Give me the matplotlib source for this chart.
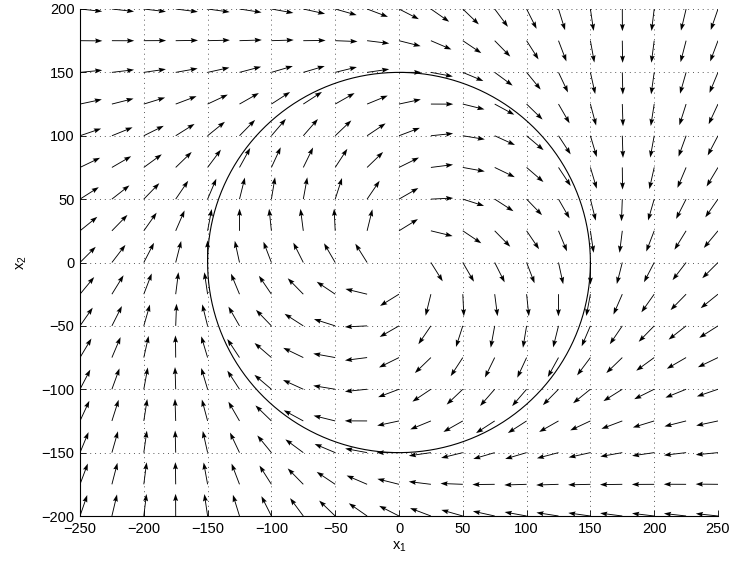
import numpy as np
import matplotlib
matplotlib.use("Agg")
import matplotlib.pyplot as plt

plt.rcParams['font.family'] = ['Liberation Sans', 'DejaVu Sans']
plt.rcParams['mathtext.default'] = 'regular'

# grid of sample points for the field
x_pts = np.arange(-250, 251, 25)
y_pts = np.arange(-200, 201, 25)

# limit cycle radius and convergence gain
R_CYCLE = 150.0
K_GAIN = 5e-5
ARROW_LEN = 17.5

x_ticks = [-250, -200, -150, -100, -50, 0, 50, 100, 150, 200, 250]
y_ticks = [-200, -150, -100, -50, 0, 50, 100, 150, 200]

X, Y = np.meshgrid(x_pts, y_pts)
r = np.hypot(X, Y)
with np.errstate(invalid='ignore', divide='ignore'):
    nx, ny = X / r, Y / r          # outward normal
    tx, ty = Y / r, -X / r         # clockwise tangent
G = (2 / np.pi) * np.arctan(K_GAIN * (r**2 - R_CYCLE**2))
H = np.sqrt(1 - G**2)
U = -G * nx + H * tx
V = -G * ny + H * ty
ok = r > 0

fig = plt.figure(figsize=(7.31, 5.62), dpi=100)
ax = fig.add_axes([80 / 731, 1 - 516 / 562, 638 / 731, 507 / 562])

ax.quiver(X[ok], Y[ok], U[ok], V[ok], angles='xy', scale_units='xy',
          scale=1 / ARROW_LEN, units='dots', width=0.9, headwidth=5.5,
          headlength=8, headaxislength=7, color='k', zorder=3)

th = np.linspace(0, 2 * np.pi, 500)
ax.plot(R_CYCLE * np.cos(th), R_CYCLE * np.sin(th), color='k', lw=0.8, zorder=2)

ax.set_xlim(-250, 250)
ax.set_ylim(-200, 200)
ax.set_xticks(x_ticks)
ax.set_yticks(y_ticks)
ax.grid(True, color='0.35', lw=0.7, dashes=(1, 4))
ax.set_axisbelow(True)
for s in ['top', 'right']:
    ax.spines[s].set_visible(False)
for s in ['left', 'bottom']:
    ax.spines[s].set_linewidth(0.8)
ax.tick_params(direction='in', length=4.3, width=0.6, labelsize=10.5, pad=4)

ax.set_xlabel('$x_1$', fontsize=10.5, labelpad=3)
ax.set_ylabel('$x_2$', fontsize=10.5, labelpad=9)

fig.savefig('out.png', dpi=100)
